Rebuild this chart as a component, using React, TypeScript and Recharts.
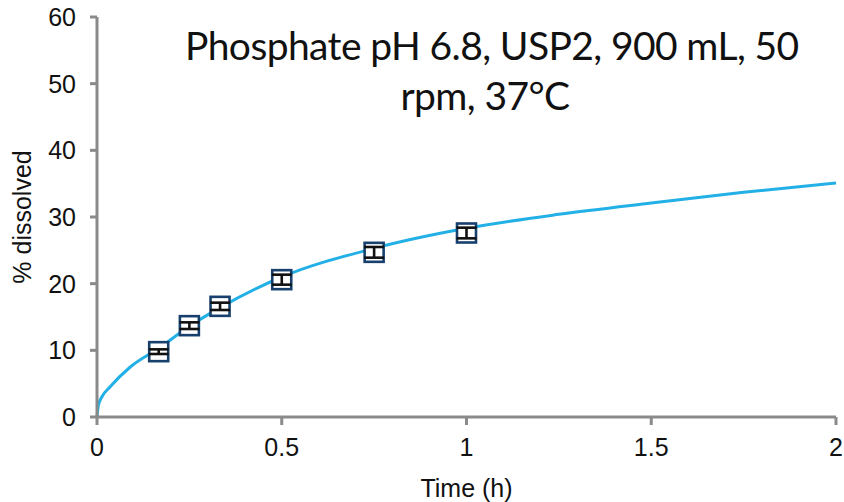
import { ComposedChart, Line, Scatter, ErrorBar, XAxis, YAxis } from "recharts";

// measured dissolution points (mean ± sd)
const timeH = [0.167, 0.25, 0.333, 0.5, 0.75, 1.0];
const pctDissolved = [9.8, 13.7, 16.6, 20.6, 24.7, 27.6];
const pctSd = [0.35, 0.5, 0.55, 0.75, 0.8, 0.8];

// fitted release profile
const fitTime = [0, 0.004, 0.013, 0.035, 0.09, 0.167, 0.25, 0.333, 0.5, 0.75, 1.0, 1.25, 1.5, 1.75, 2.0];
const fitPct = [0, 1.8, 3.0, 4.5, 7.5, 10.3, 13.6, 16.4, 21.0, 25.3, 28.3, 30.4, 32.1, 33.7, 35.1];

const xTicks = [0, 0.5, 1, 1.5, 2];
const yTicks = [0, 10, 20, 30, 40, 50, 60];

const points = timeH.map((x, i) => ({ x, y: pctDissolved[i], err: pctSd[i] }));
const fit = fitTime.map((x, i) => ({ x, y: fitPct[i] }));

const axisColor = "#8a8a8a";
const axisFont = "'Liberation Sans', Arial, sans-serif";
const tickStyle = { fill: "#111", fontSize: 25, fontFamily: axisFont };

const SquareMarker = (props: any) => {
  const { cx, cy } = props;
  if (cx == null || cy == null) return <g />;
  return (
    <rect x={cx - 9.5} y={cy - 9.5} width={19} height={19} fill="#fff" stroke="#17406d" strokeWidth={2.6} />
  );
};

export default function App() {
  return (
    <div style={{ position: "absolute", left: 0, top: 0, width: 844, height: 502, background: "#fff" }}>
      <ComposedChart width={844} height={502} margin={{ top: 17, right: 8, bottom: 0, left: 0 }}>
        <XAxis
          dataKey="x"
          type="number"
          domain={[0, 2]}
          ticks={xTicks}
          height={85}
          stroke={axisColor}
          strokeWidth={3}
          tickSize={8}
          tickMargin={13}
          tick={tickStyle}
          tickFormatter={(v: number) => String(v)}
          label={{ value: "Time (h)", position: "insideBottom", offset: 5, style: tickStyle }}
        />
        <YAxis
          dataKey="y"
          type="number"
          domain={[0, 60]}
          ticks={yTicks}
          width={97}
          stroke={axisColor}
          strokeWidth={3}
          tickSize={7}
          tickMargin={14}
          tick={tickStyle}
          label={{ value: "% dissolved", angle: -90, position: "center", dx: -26, style: tickStyle }}
        />
        <Line
          data={fit}
          dataKey="y"
          type="monotone"
          stroke="#22b0e6"
          strokeWidth={3}
          dot={false}
          activeDot={false}
          isAnimationActive={false}
        />
        <Scatter data={points} dataKey="y" shape={SquareMarker} isAnimationActive={false} />
        {/* second pass so the error bars sit on top of the white squares */}
        <Scatter data={points} dataKey="y" shape={() => <g />} isAnimationActive={false} zIndex={1000}>
          <ErrorBar
            dataKey="err"
            direction="y"
            width={10}
            stroke="#111"
            strokeWidth={2.6}
            isAnimationActive={false}
            zIndex={1000}
          />
        </Scatter>
      </ComposedChart>
      <div
        style={{
          position: "absolute",
          left: 185,
          top: 20,
          width: 600,
          textAlign: "center",
          fontFamily: "Lato, 'Open Sans', sans-serif",
          fontSize: 39,
          letterSpacing: -0.6,
          lineHeight: "50px",
          color: "#111",
          whiteSpace: "nowrap",
        }}
      >
        Phosphate pH 6.8, USP2, 900 mL, 50
        <br />
        rpm, 37°C
      </div>
    </div>
  );
}
